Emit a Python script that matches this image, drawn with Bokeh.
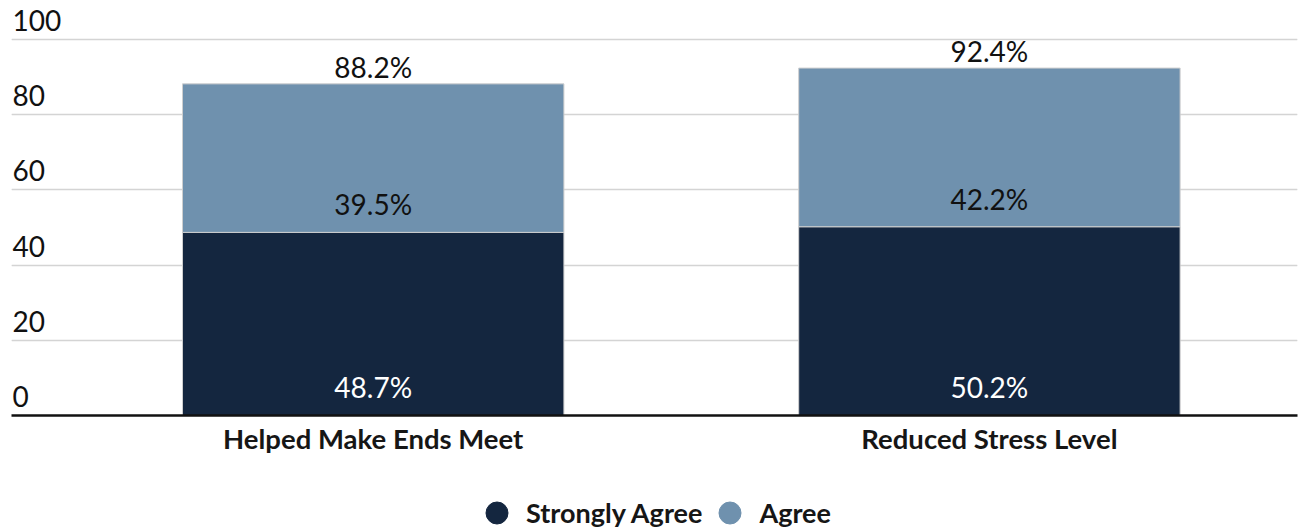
from bokeh.plotting import figure
from bokeh.layouts import column
from bokeh.models import (ColumnDataSource, Range1d, FixedTicker, Grid, Legend,
                          LegendItem)
from bokeh.core.properties import value
from bokeh.embed import file_html
from bokeh.resources import INLINE

# Survey results (percent of respondents)
categories = ["Helped Make Ends Meet", "Reduced Stress Level"]
strongly_agree = [48.7, 50.2]
agree = [39.5, 42.2]
y_ticks = [0, 20, 40, 60, 80, 100]

DARK = "#14263f"
LIGHT = "#6f91ae"
FONT = "Lato"

xs = list(range(len(categories)))
totals = [round(a + b, 1) for a, b in zip(strongly_agree, agree)]

src = ColumnDataSource(data=dict(
    x=xs,
    strongly=strongly_agree,
    agree=agree,
    total=totals,
    zero=[0] * len(xs),
    strongly_lbl=[f"{v:.1f}%" for v in strongly_agree],
    agree_lbl=[f"{v:.1f}%" for v in agree],
    total_lbl=[f"{v:.1f}%" for v in totals],
))

X_START, X_END = -0.587, 1.5

p = figure(width=1303, height=480, output_backend="svg", toolbar_location=None,
           x_range=Range1d(X_START, X_END), y_range=Range1d(0, 109.04),
           y_axis_location=None, min_border_left=11, min_border_right=6,
           min_border_top=5, min_border_bottom=65)
p.outline_line_color = None
p.background_fill_color = "white"
p.xgrid.visible = False

grid = Grid(dimension=1, ticker=FixedTicker(ticks=y_ticks[1:]),
            grid_line_color="#d4d4d4", grid_line_width=1.5)
p.add_layout(grid)

# Stacked bars
p.vbar_stack(["strongly", "agree"], x="x", width=0.619, source=src,
             color=[DARK, LIGHT], line_color="#cfcfcf", line_width=1)

# Category axis along the bottom
ax = p.xaxis[0]
ax.ticker = FixedTicker(ticks=xs)
ax.major_label_overrides = {i: c for i, c in enumerate(categories)}
ax.axis_line_color = "#111111"
ax.axis_line_width = 2.5
ax.major_tick_line_color = None
ax.minor_tick_line_color = None
ax.major_tick_out = 0
ax.major_label_standoff = 6
ax.major_label_text_font = FONT
ax.major_label_text_font_style = "bold"
ax.major_label_text_font_size = "27.5px"
ax.major_label_text_color = "#161616"

# Value axis labels sitting above each gridline
ysrc = ColumnDataSource(data=dict(y=y_ticks, lbl=[str(t) for t in y_ticks],
                                  x=[X_START] * len(y_ticks)))
p.text(x="x", y="y", text="lbl", source=ysrc, x_offset=1, y_offset=-19,
       text_font=value(FONT), text_font_size="28px", text_color="#111111",
       text_baseline="alphabetic", text_align="left")

# Segment and total labels
common = dict(source=src, text_font=value(FONT), text_font_size="28px",
              text_align="center", text_baseline="alphabetic")
p.text(x="x", y="zero", text="strongly_lbl", y_offset=-29,
       text_color="white", **common)
p.text(x="x", y="strongly", text="agree_lbl", y_offset=-28,
       text_color="#111111", **common)
p.text(x="x", y="total", text="total_lbl", y_offset=-17,
       text_color="#111111", **common)

# Legend strip underneath the chart, with round markers
lg = figure(width=1303, height=49, output_backend="svg", toolbar_location=None,
            x_range=Range1d(0, 1), y_range=Range1d(0, 1),
            x_axis_location=None, y_axis_location=None,
            min_border_left=0, min_border_right=0, min_border_top=0,
            min_border_bottom=0)
lg.outline_line_color = None
lg.xgrid.visible = False
lg.ygrid.visible = False
r_sa = lg.scatter(x=[-10], y=[-10], marker="circle", color=DARK)
r_a = lg.scatter(x=[-10], y=[-10], marker="circle", color=LIGHT)
legend = Legend(items=[LegendItem(label="Strongly Agree", renderers=[r_sa]),
                       LegendItem(label="Agree", renderers=[r_a])],
                location=(458, -11), orientation="horizontal",
                glyph_width=55, glyph_height=55, label_standoff=2, spacing=0,
                padding=0, margin=0, background_fill_alpha=0,
                border_line_alpha=0, label_text_font=FONT,
                label_text_font_style="bold", label_text_font_size="27px",
                label_text_color="#161616")
lg.add_layout(legend)

open("out.html", "w").write(file_html(column(p, lg), INLINE))
